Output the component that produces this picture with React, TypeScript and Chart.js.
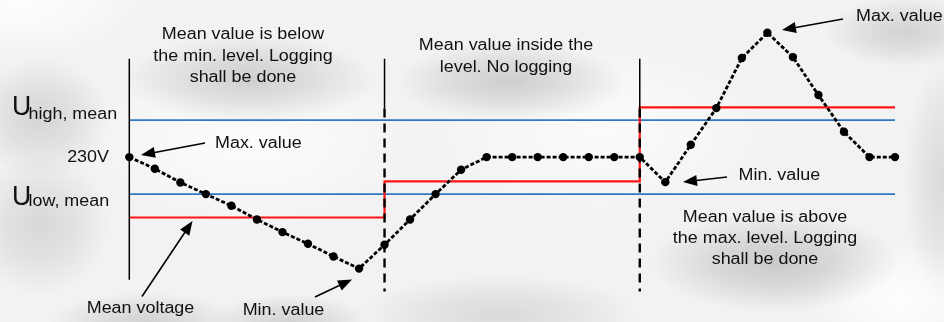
import React, { useEffect, useRef } from "react";
import { Chart, registerables } from "chart.js";

Chart.register(...registerables);

// ---- data ----
const voltages = [
  230, 228.8, 227.4, 226.2, 225, 223.6, 222.3, 221.1, 219.8, 218.55,
  221, 223.6, 226.2, 228.7, 230, 230, 230, 230, 230, 230,
  230, 227.43, 231.27, 235.03, 240.17, 242.77, 240.27, 236.37, 232.6, 230, 230,
];
const periodBounds = [0, 10, 20, 30];
const meanLevels = [223.8, 227.5, 235.1];
const uHighMean = 233.8;
const uLowMean = 226.2;
const markerTop = 240.1;
const markerBottom = 217.4;
const dashTop = 235;
const dashBottom = 216.2;
const yMin = 213.5;
const yMax = 245.7;

const block1 = ["Mean value is below", "the min. level. Logging", "shall be done"];
const block2 = ["Mean value inside the", "level. No logging"];
const block3 = ["Mean value is above", "the max. level. Logging", "shall be done"];
const maxLabel = "Max. value";
const minLabel = "Min. value";
const meanLabel = "Mean voltage";
const nominalLabel = "230V";
const highSub = "high, mean";
const lowSub = "low, mean";

const FONT = '"Liberation Sans", Arial, sans-serif';
const SX = 1.12;

function drawText(ctx: CanvasRenderingContext2D, s: string, x: number, y: number, align: CanvasTextAlign, size = 16, baseline: CanvasTextBaseline = "middle", sx = SX) {
  ctx.save();
  ctx.translate(x, y);
  ctx.scale(sx, 1);
  ctx.font = `${size}px ${FONT}`;
  ctx.textAlign = align;
  ctx.textBaseline = baseline;
  ctx.fillStyle = "#111";
  ctx.fillText(s, 0, 0);
  ctx.restore();
}

function drawArrow(ctx: CanvasRenderingContext2D, x1: number, y1: number, x2: number, y2: number) {
  const a = Math.atan2(y2 - y1, x2 - x1);
  const L = 14;
  const W = 5.5;
  const c = Math.cos(a);
  const s = Math.sin(a);
  ctx.save();
  ctx.strokeStyle = "#000";
  ctx.fillStyle = "#000";
  ctx.lineWidth = 1.6;
  ctx.beginPath();
  ctx.moveTo(x1, y1);
  ctx.lineTo(x2 - L * 0.8 * c, y2 - L * 0.8 * s);
  ctx.stroke();
  ctx.beginPath();
  ctx.moveTo(x2, y2);
  ctx.lineTo(x2 - L * c + W * s, y2 - L * s - W * c);
  ctx.lineTo(x2 - L * c - W * s, y2 - L * s + W * c);
  ctx.closePath();
  ctx.fill();
  ctx.restore();
}

function halo(ctx: CanvasRenderingContext2D, cx: number, cy: number, rx: number, ry: number, alpha: number, color = "0,0,0") {
  ctx.save();
  ctx.translate(cx, cy);
  ctx.scale(rx / ry, 1);
  const g = ctx.createRadialGradient(0, 0, 0, 0, 0, ry);
  g.addColorStop(0, `rgba(${color},${alpha})`);
  g.addColorStop(0.5, `rgba(${color},${alpha * 0.6})`);
  g.addColorStop(1, `rgba(${color},0)`);
  ctx.fillStyle = g;
  ctx.beginPath();
  ctx.arc(0, 0, ry, 0, Math.PI * 2);
  ctx.fill();
  ctx.restore();
}

const backgroundPlugin = {
  id: "bg",
  beforeDraw(chart: any) {
    const ctx = chart.ctx as CanvasRenderingContext2D;
    const w = chart.width;
    const h = chart.height;
    ctx.save();
    ctx.fillStyle = "#f2f2f2";
    ctx.fillRect(0, 0, w, h);
    halo(ctx, 250, 140, 170, 90, 0.8, "255,255,255");
    halo(ctx, 600, 130, 180, 90, 0.7, "255,255,255");
    halo(ctx, 20, 0, 130, 60, 0.9, "255,255,255");
    halo(ctx, 900, 300, 90, 60, 0.9, "255,255,255");
    halo(ctx, 250, 80, 125, 45, 0.16);
    halo(ctx, 512, 82, 115, 40, 0.16);
    halo(ctx, 775, 262, 125, 50, 0.17);
    halo(ctx, 905, 32, 80, 35, 0.13);
    halo(ctx, 40, 118, 70, 60, 0.12);
    halo(ctx, 40, 225, 70, 70, 0.11);
    halo(ctx, 145, 322, 95, 30, 0.13);
    halo(ctx, 290, 322, 80, 28, 0.13);
    halo(ctx, 500, 315, 140, 40, 0.1);
    halo(ctx, 944, 180, 40, 120, 0.1);
    ctx.restore();
  },
};

const annotationPlugin = {
  id: "notes",
  afterDatasetsDraw(chart: any) {
    const ctx = chart.ctx as CanvasRenderingContext2D;
    block1.forEach((s, i) => drawText(ctx, s, 243, 35 + i * 21.3, "center"));
    block2.forEach((s, i) => drawText(ctx, s, 506, 46 + i * 21.5, "center"));
    block3.forEach((s, i) => drawText(ctx, s, 765, 217.5 + i * 21, "center"));

    drawText(ctx, maxLabel, 215, 143.3, "left");
    drawArrow(ctx, 205, 143, 141, 155);

    drawText(ctx, maxLabel, 856, 16.5, "left");
    drawArrow(ctx, 843, 19, 782, 30);

    drawText(ctx, minLabel, 738.5, 175.3, "left");
    drawArrow(ctx, 727, 177, 683, 182);

    drawText(ctx, meanLabel, 140.5, 308.7, "center");
    drawArrow(ctx, 142, 296.5, 192.5, 221);

    drawText(ctx, minLabel, 283.5, 310.3, "center");
    drawArrow(ctx, 315, 297, 352, 279.5);

    drawText(ctx, nominalLabel, 109, 157.5, "right");

    drawText(ctx, "U", 12, 115, "left", 28, "alphabetic", 0.95);
    drawText(ctx, highSub, 28.5, 118.5, "left", 16, "alphabetic");
    drawText(ctx, "U", 12, 204.5, "left", 28, "alphabetic", 0.95);
    drawText(ctx, lowSub, 28.5, 206, "left", 16, "alphabetic");
  },
};

export default function App() {
  const ref = useRef<HTMLCanvasElement | null>(null);

  useEffect(() => {
    document.body.style.margin = "0";
    const canvas = ref.current;
    if (!canvas) return;

    const samples = voltages.map((v, i) => ({ x: i, y: v }));
    const first = periodBounds[0];
    const last = periodBounds[periodBounds.length - 1];
    const meanSteps: { x: number; y: number }[] = [];
    meanLevels.forEach((lv, i) => {
      meanSteps.push({ x: periodBounds[i], y: lv });
      meanSteps.push({ x: periodBounds[i + 1], y: lv });
    });
    const inner = periodBounds.slice(1, -1);

    const datasets: any[] = [
      {
        label: "U high, mean",
        data: [{ x: first, y: uHighMean }, { x: last, y: uHighMean }],
        borderColor: "#2f78c0",
        borderWidth: 1.8,
        pointRadius: 0,
        order: 5,
      },
      {
        label: "U low, mean",
        data: [{ x: first, y: uLowMean }, { x: last, y: uLowMean }],
        borderColor: "#2f78c0",
        borderWidth: 1.8,
        pointRadius: 0,
        order: 5,
      },
      {
        label: "Mean voltage",
        data: meanSteps,
        borderColor: "#ff1414",
        borderWidth: 2.2,
        pointRadius: 0,
        order: 4,
      },
      {
        label: "axis",
        data: [{ x: first, y: markerTop }, { x: first, y: markerBottom }],
        borderColor: "#000",
        borderWidth: 1.5,
        pointRadius: 0,
        order: 3,
      },
      ...inner.flatMap((b) => [
        {
          label: "boundary",
          data: [{ x: b, y: markerTop }, { x: b, y: dashTop }],
          borderColor: "#000",
          borderWidth: 1.5,
          pointRadius: 0,
          order: 3,
        },
        {
          label: "boundary dashed",
          data: [{ x: b, y: dashTop }, { x: b, y: dashBottom }],
          borderColor: "#000",
          borderWidth: 2.4,
          borderDash: [9, 6],
          pointRadius: 0,
          order: 3,
        },
      ]),
      {
        label: "Voltage",
        data: samples,
        borderColor: "#000",
        borderWidth: 2.8,
        borderDash: [4, 2],
        pointRadius: 4.2,
        pointBackgroundColor: "#000",
        pointBorderWidth: 0,
        order: 0,
      },
    ];

    const chart = new Chart(canvas, {
      type: "line",
      data: { datasets },
      options: {
        animation: false,
        responsive: false,
        devicePixelRatio: 1,
        layout: { padding: { left: 129.3, right: 49, top: 0, bottom: 0 } },
        plugins: { legend: { display: false }, tooltip: { enabled: false } },
        elements: { line: { tension: 0 } },
        datasets: { line: { clip: false } as any },
        scales: {
          x: { type: "linear", min: first, max: last, display: false },
          y: { type: "linear", min: yMin, max: yMax, display: false },
        },
      },
      plugins: [backgroundPlugin, annotationPlugin],
    });
    return () => chart.destroy();
  }, []);

  return (
    <div style={{ position: "absolute", left: 0, top: 0, width: 944, height: 322 }}>
      <canvas ref={ref} width={944} height={322} style={{ display: "block" }} />
    </div>
  );
}
